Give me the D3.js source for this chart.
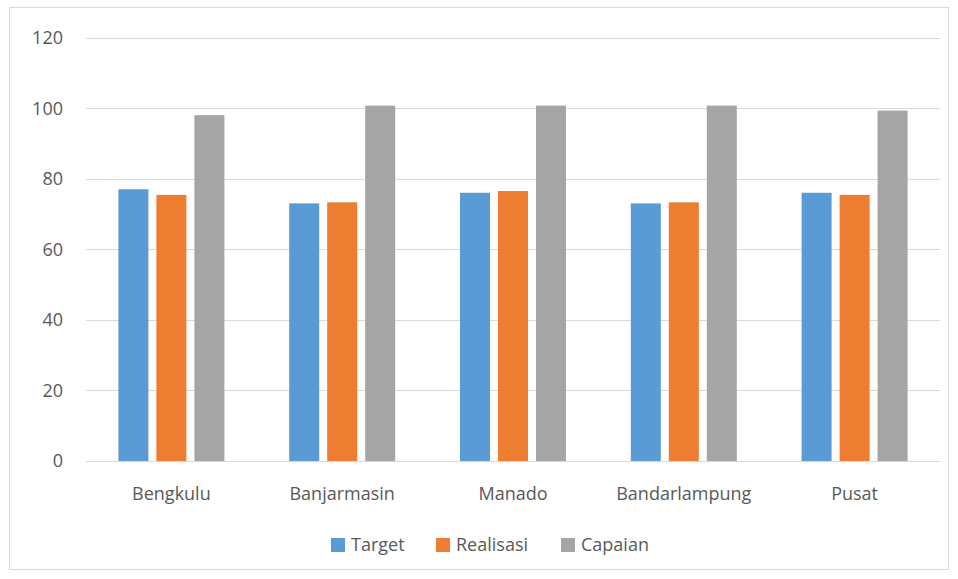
<!DOCTYPE html>
<html>
<head>
<meta charset="utf-8">
<script src="https://cdn.jsdelivr.net/npm/d3@7"></script>
<style>
  html, body { margin: 0; padding: 0; background: #fff; }
  svg { display: block; font-family: "Open Sans", "Liberation Sans", sans-serif; }
</style>
</head>
<body>
<svg id="chart" width="958" height="579"></svg>
<script>
// Categories and series values
const categories = ["Bengkulu", "Banjarmasin", "Manado", "Bandarlampung", "Pusat"];
const seriesNames = ["Target", "Realisasi", "Capaian"];
const target    = [77, 73, 76, 73, 76];
const realisasi = [75.4, 73.3, 76.5, 73.3, 75.4];
const capaian   = [98, 100.7, 100.7, 100.7, 99.3];
const yTicks = [0, 20, 40, 60, 80, 100, 120];
const colors = ["#5B9BD5", "#ED7D31", "#A5A5A5"];

const seriesValues = [target, realisasi, capaian];
const rows = categories.map((c, i) => ({
  category: c,
  values: seriesNames.map((s, k) => ({ series: s, value: seriesValues[k][i], k }))
}));

const svg = d3.select("#chart");
const W = 958, H = 579;
const fontSize = 18;

// chart frame
svg.append("rect")
  .attr("x", 9.5).attr("y", 7.5).attr("width", W - 19).attr("height", H - 17)
  .attr("fill", "#fff").attr("stroke", "#D9D9D9").attr("stroke-width", 1);

const plot = { left: 86, right: 940, top: 37.5, bottom: 461 };

const x = d3.scaleBand().domain(categories).range([plot.left, plot.right]).paddingInner(0).paddingOuter(0);
const y = d3.scaleLinear().domain([0, 120]).range([plot.bottom, plot.top]);

// gridlines
svg.append("g").selectAll("line").data(yTicks.filter(t => t > 0)).join("line")
  .attr("x1", plot.left).attr("x2", plot.right)
  .attr("y1", d => Math.round(y(d)) + 0.5).attr("y2", d => Math.round(y(d)) + 0.5)
  .attr("stroke", "#D9D9D9").attr("stroke-width", 1);

// y tick labels
svg.append("g").selectAll("text").data(yTicks).join("text")
  .attr("x", 63).attr("y", d => y(d))
  .attr("dy", "0.36em")
  .attr("text-anchor", "end")
  .attr("font-size", fontSize)
  .attr("fill", "#595959")
  .text(d => d);

// bars
const barW = 30, gap = 8;
const groupW = barW * 3 + gap * 2;
const g = svg.append("g");
g.selectAll("g").data(rows).join("g")
  .attr("transform", d => `translate(${x(d.category) + (x.bandwidth() - groupW) / 2},0)`)
  .selectAll("rect").data(d => d.values).join("rect")
  .attr("x", d => d.k * (barW + gap))
  .attr("y", d => y(d.value))
  .attr("width", barW)
  .attr("height", d => y(0) - y(d.value))
  .attr("fill", d => colors[d.k]);

// x axis line
svg.append("line")
  .attr("x1", plot.left).attr("x2", plot.right)
  .attr("y1", plot.bottom + 0.5).attr("y2", plot.bottom + 0.5)
  .attr("stroke", "#D9D9D9").attr("stroke-width", 1);

// x labels
svg.append("g").selectAll("text").data(categories).join("text")
  .attr("x", d => x(d) + x.bandwidth() / 2)
  .attr("y", 500)
  .attr("text-anchor", "middle")
  .attr("font-size", fontSize)
  .attr("fill", "#595959")
  .text(d => d);

// legend
const legendX = [331, 436, 561];
const lg = svg.append("g").selectAll("g").data(seriesNames).join("g")
  .attr("transform", (d, i) => `translate(${legendX[i]},538)`);
lg.append("rect").attr("width", 14).attr("height", 14).attr("fill", (d, i) => colors[i]);
lg.append("text").attr("x", 20).attr("y", 7).attr("dy", "0.36em")
  .attr("font-size", fontSize).attr("fill", "#595959").text(d => d);
</script>
</body>
</html>
